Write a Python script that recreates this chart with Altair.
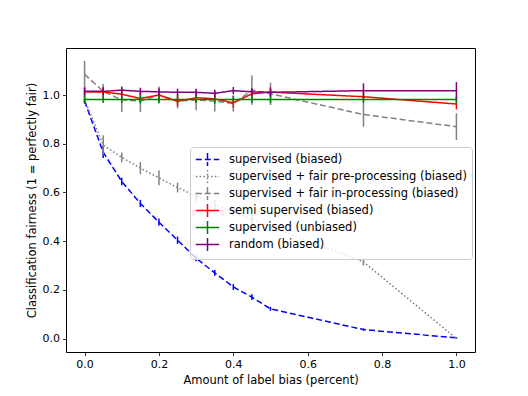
import altair as alt
import pandas as pd

x_vals = [0.0, 0.05, 0.1, 0.15, 0.2, 0.25, 0.3, 0.35, 0.4, 0.45, 0.5, 0.75, 1.0]

series_names = [
    "supervised (biased)",
    "supervised + fair pre-processing (biased)",
    "supervised + fair in-processing (biased)",
    "semi supervised (biased)",
    "supervised (unbiased)",
    "random (biased)",
]
series_colors = ["blue", "gray", "gray", "red", "green", "purple"]
series_dashes = [[6, 3], [1.6, 2.2], [6, 3], [1, 0], [1, 0], [1, 0]]

sup_biased = [0.975, 0.765, 0.645, 0.555, 0.478, 0.404, 0.33, 0.27, 0.212, 0.17, 0.122, 0.037, 0.003]
sup_biased_err = [0.01, 0.024, 0.015, 0.015, 0.015, 0.015, 0.012, 0.012, 0.012, 0.012, 0.008, 0.005, 0.003]

pre_proc = [0.98, 0.795, 0.744, 0.70, 0.66, 0.62, 0.585, 0.55, 0.52, 0.49, 0.46, 0.315, 0.0]
pre_proc_err = [0.01, 0.04, 0.02, 0.025, 0.03, 0.02, 0.02, 0.02, 0.02, 0.02, 0.02, 0.015, 0.002]

in_proc = [1.085, 1.015, 0.98, 0.975, 1.0, 0.975, 0.98, 0.975, 0.965, 1.02, 1.005, 0.92, 0.87]
in_proc_err_low = [0.115, 0.03, 0.05, 0.045, 0.035, 0.03, 0.043, 0.043, 0.033, 0.06, 0.046, 0.05, 0.055]
in_proc_err_high = [0.055, 0.03, 0.05, 0.045, 0.035, 0.03, 0.043, 0.043, 0.033, 0.06, 0.046, 0.05, 0.055]

semi_sup = [1.012, 1.013, 1.003, 0.986, 1.0, 0.974, 0.989, 0.984, 0.968, 1.005, 1.012, 0.993, 0.963]
semi_sup_err = [0.02, 0.02, 0.02, 0.02, 0.02, 0.02, 0.02, 0.02, 0.02, 0.02, 0.02, 0.02, 0.022]

sup_unbiased = [0.982] * 13
sup_unbiased_err = [0.015] * 13

random_b = [1.015, 1.015, 1.02, 1.015, 1.013, 1.011, 1.011, 1.007, 1.018, 1.013, 1.011, 1.018, 1.018]
random_err = [0.015, 0.015, 0.015, 0.015, 0.015, 0.015, 0.015, 0.015, 0.015, 0.015, 0.015, 0.03, 0.035]

vals = [sup_biased, pre_proc, in_proc, semi_sup, sup_unbiased, random_b]
lows = [sup_biased_err, pre_proc_err, in_proc_err_low, semi_sup_err, sup_unbiased_err, random_err]
highs = [sup_biased_err, pre_proc_err, in_proc_err_high, semi_sup_err, sup_unbiased_err, random_err]

rows = []
for name, v, lo, hi in zip(series_names, vals, lows, highs):
    for xv, yv, l, h in zip(x_vals, v, lo, hi):
        rows.append({"series": name, "x": xv, "y": yv, "lo": yv - l, "hi": yv + h})
df = pd.DataFrame(rows)

tick_vals = [0.0, 0.2, 0.4, 0.6, 0.8, 1.0]
x_scale = alt.Scale(domain=[-0.05, 1.05], nice=False, zero=False)
y_scale = alt.Scale(domain=[-0.055, 1.193], nice=False, zero=False)
x_axis = alt.Axis(values=tick_vals, format=".1f", title="Amount of label bias (percent)")
y_axis = alt.Axis(values=tick_vals, format=".1f", title="Classification fairness (1 = perfectly fair)")

legend = alt.Legend(
    title=None,
    orient="none",
    legendX=124,
    legendY=99,
    symbolType="M-1.8,0H1.8M0,-1V1",
    symbolSize=169,
    symbolOffset=5,
    symbolStrokeWidth=1.5,
    symbolFillColor="transparent",
    labelFont="DejaVu Sans",
    labelFontSize=11.5,
    labelColor="black",
    labelOffset=14,
    rowPadding=-2.2,
    padding=5,
    strokeColor="#cccccc",
    fillColor="rgba(255,255,255,0.8)",
    cornerRadius=3,
    labelLimit=400,
)

color_enc = alt.Color("series:N", scale=alt.Scale(domain=series_names, range=series_colors), legend=legend)
dash_enc = alt.StrokeDash("series:N", scale=alt.Scale(domain=series_names, range=series_dashes), legend=legend)

layers = []
for name, col in zip(series_names, series_colors):
    sub = alt.Chart(df).transform_filter(alt.datum.series == name)
    rule = sub.mark_rule(color=col, strokeWidth=1.5).encode(
        x=alt.X("x:Q", scale=x_scale, axis=x_axis),
        y=alt.Y("lo:Q", scale=y_scale, axis=y_axis),
        y2="hi:Q",
    )
    line = sub.mark_line(strokeWidth=1.5).encode(
        x=alt.X("x:Q", scale=x_scale, axis=x_axis),
        y=alt.Y("y:Q", scale=y_scale, axis=y_axis),
        color=color_enc,
        strokeDash=dash_enc,
    )
    layers += [rule, line]

chart = alt.layer(*layers).properties(
    width=409,
    height=304,
    autosize=alt.AutoSizeParams(type="none"),
    padding={"left": 58, "top": 40, "right": 45, "bottom": 36},
).configure_view(
    stroke="black", strokeWidth=1
).configure_axis(
    grid=False,
    domain=False,
    tickColor="black",
    tickSize=3.5,
    tickWidth=0.8,
    labelFont="DejaVu Sans",
    labelFontSize=11,
    labelColor="black",
    labelPadding=3,
    titleFont="DejaVu Sans",
    titleFontSize=11.5,
    titleFontWeight="normal",
    titleColor="black",
    titlePadding=5,
)

chart.save("out.html", embed_options={"renderer": "svg", "actions": False})
